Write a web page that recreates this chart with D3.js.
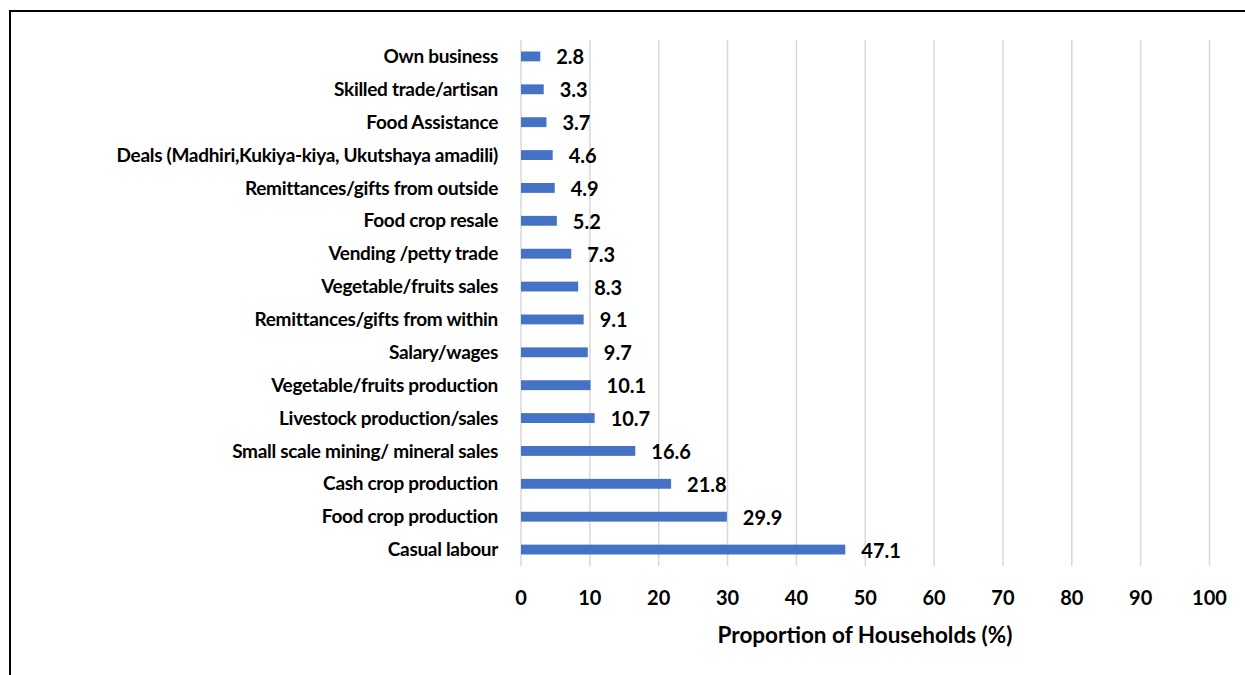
<!DOCTYPE html>
<html>
<head>
<meta charset="utf-8">
<script src="https://cdn.jsdelivr.net/npm/d3@7"></script>
<style>
  body { margin: 0; background: #fff; }
  text { font-family: Lato, "Open Sans", sans-serif; font-weight: bold; fill: #000; }
</style>
</head>
<body>
<div id="chart"></div>
<script>
// categories top to bottom
const categories = [
  "Own business", "Skilled trade/artisan", "Food Assistance",
  "Deals (Madhiri,Kukiya-kiya, Ukutshaya amadili)",
  "Remittances/gifts from outside", "Food crop resale", "Vending /petty trade",
  "Vegetable/fruits sales", "Remittances/gifts from within", "Salary/wages",
  "Vegetable/fruits production", "Livestock production/sales",
  "Small scale mining/ mineral sales", "Cash crop production",
  "Food crop production", "Casual labour"
]
const values = [2.8, 3.3, 3.7, 4.6, 4.9, 5.2, 7.3, 8.3, 9.1, 9.7, 10.1, 10.7, 16.6, 21.8, 29.9, 47.1]
const xTicks = [0, 10, 20, 30, 40, 50, 60, 70, 80, 90, 100]
const xTitle = "Proportion of Households (%)"

const width = 1245
const height = 675
const margin = {left: 521, right: 35.5, top: 40, bottom: 109}

const svg = d3.select("#chart")
  .append("svg")
    .attr("width", width)
    .attr("height", height)

// outer border (clipped at right / bottom like the original)
svg.append("rect")
  .attr("x", 10).attr("y", 11)
  .attr("width", 1250).attr("height", 680)
  .attr("fill", "none")
  .attr("stroke", "#000")
  .attr("stroke-width", 2)

const x = d3.scaleLinear()
  .domain([0, 100])
  .range([margin.left, width - margin.right])

const y = d3.scaleBand()
  .domain(categories)
  .range([margin.top, height - margin.bottom])
  .paddingInner(0.7)
  .paddingOuter(0.35)

// gridlines
svg.append("g")
  .selectAll("line")
  .data(xTicks)
  .join("line")
    .attr("x1", d => x(d)).attr("x2", d => x(d))
    .attr("y1", margin.top).attr("y2", height - margin.bottom)
    .attr("stroke", "#d9d9d9")
    .attr("stroke-width", 1.5)

// bars
svg.append("g")
  .selectAll("rect")
  .data(values)
  .join("rect")
    .attr("x", x(0))
    .attr("y", (d, i) => y(categories[i]))
    .attr("width", d => x(d) - x(0))
    .attr("height", y.bandwidth())
    .attr("fill", "#4472C4")

// value labels
svg.append("g")
  .selectAll("text")
  .data(values)
  .join("text")
    .attr("x", d => x(d) + 16)
    .attr("y", (d, i) => y(categories[i]) + y.bandwidth() / 2 + 1)
    .attr("dy", "0.35em")
    .style("font-size", "20px")
    .text(d => d.toFixed(1))

// category labels
svg.append("g")
  .selectAll("text")
  .data(categories)
  .join("text")
    .attr("x", margin.left - 23)
    .attr("y", d => y(d) + y.bandwidth() / 2)
    .attr("dy", "0.35em")
    .attr("text-anchor", "end")
    .style("font-size", "19px")
    .style("letter-spacing", "-0.3px")
    .text(d => d)

// x tick labels
svg.append("g")
  .selectAll("text")
  .data(xTicks)
  .join("text")
    .attr("x", d => x(d))
    .attr("y", 598)
    .attr("dy", "0.35em")
    .attr("text-anchor", "middle")
    .style("font-size", "20px")
    .text(d => d)

// axis title
svg.append("text")
  .attr("x", 865)
  .attr("y", 635)
  .attr("dy", "0.35em")
  .attr("text-anchor", "middle")
  .style("font-size", "22.5px")
  .text(xTitle)
</script>
</body>
</html>
